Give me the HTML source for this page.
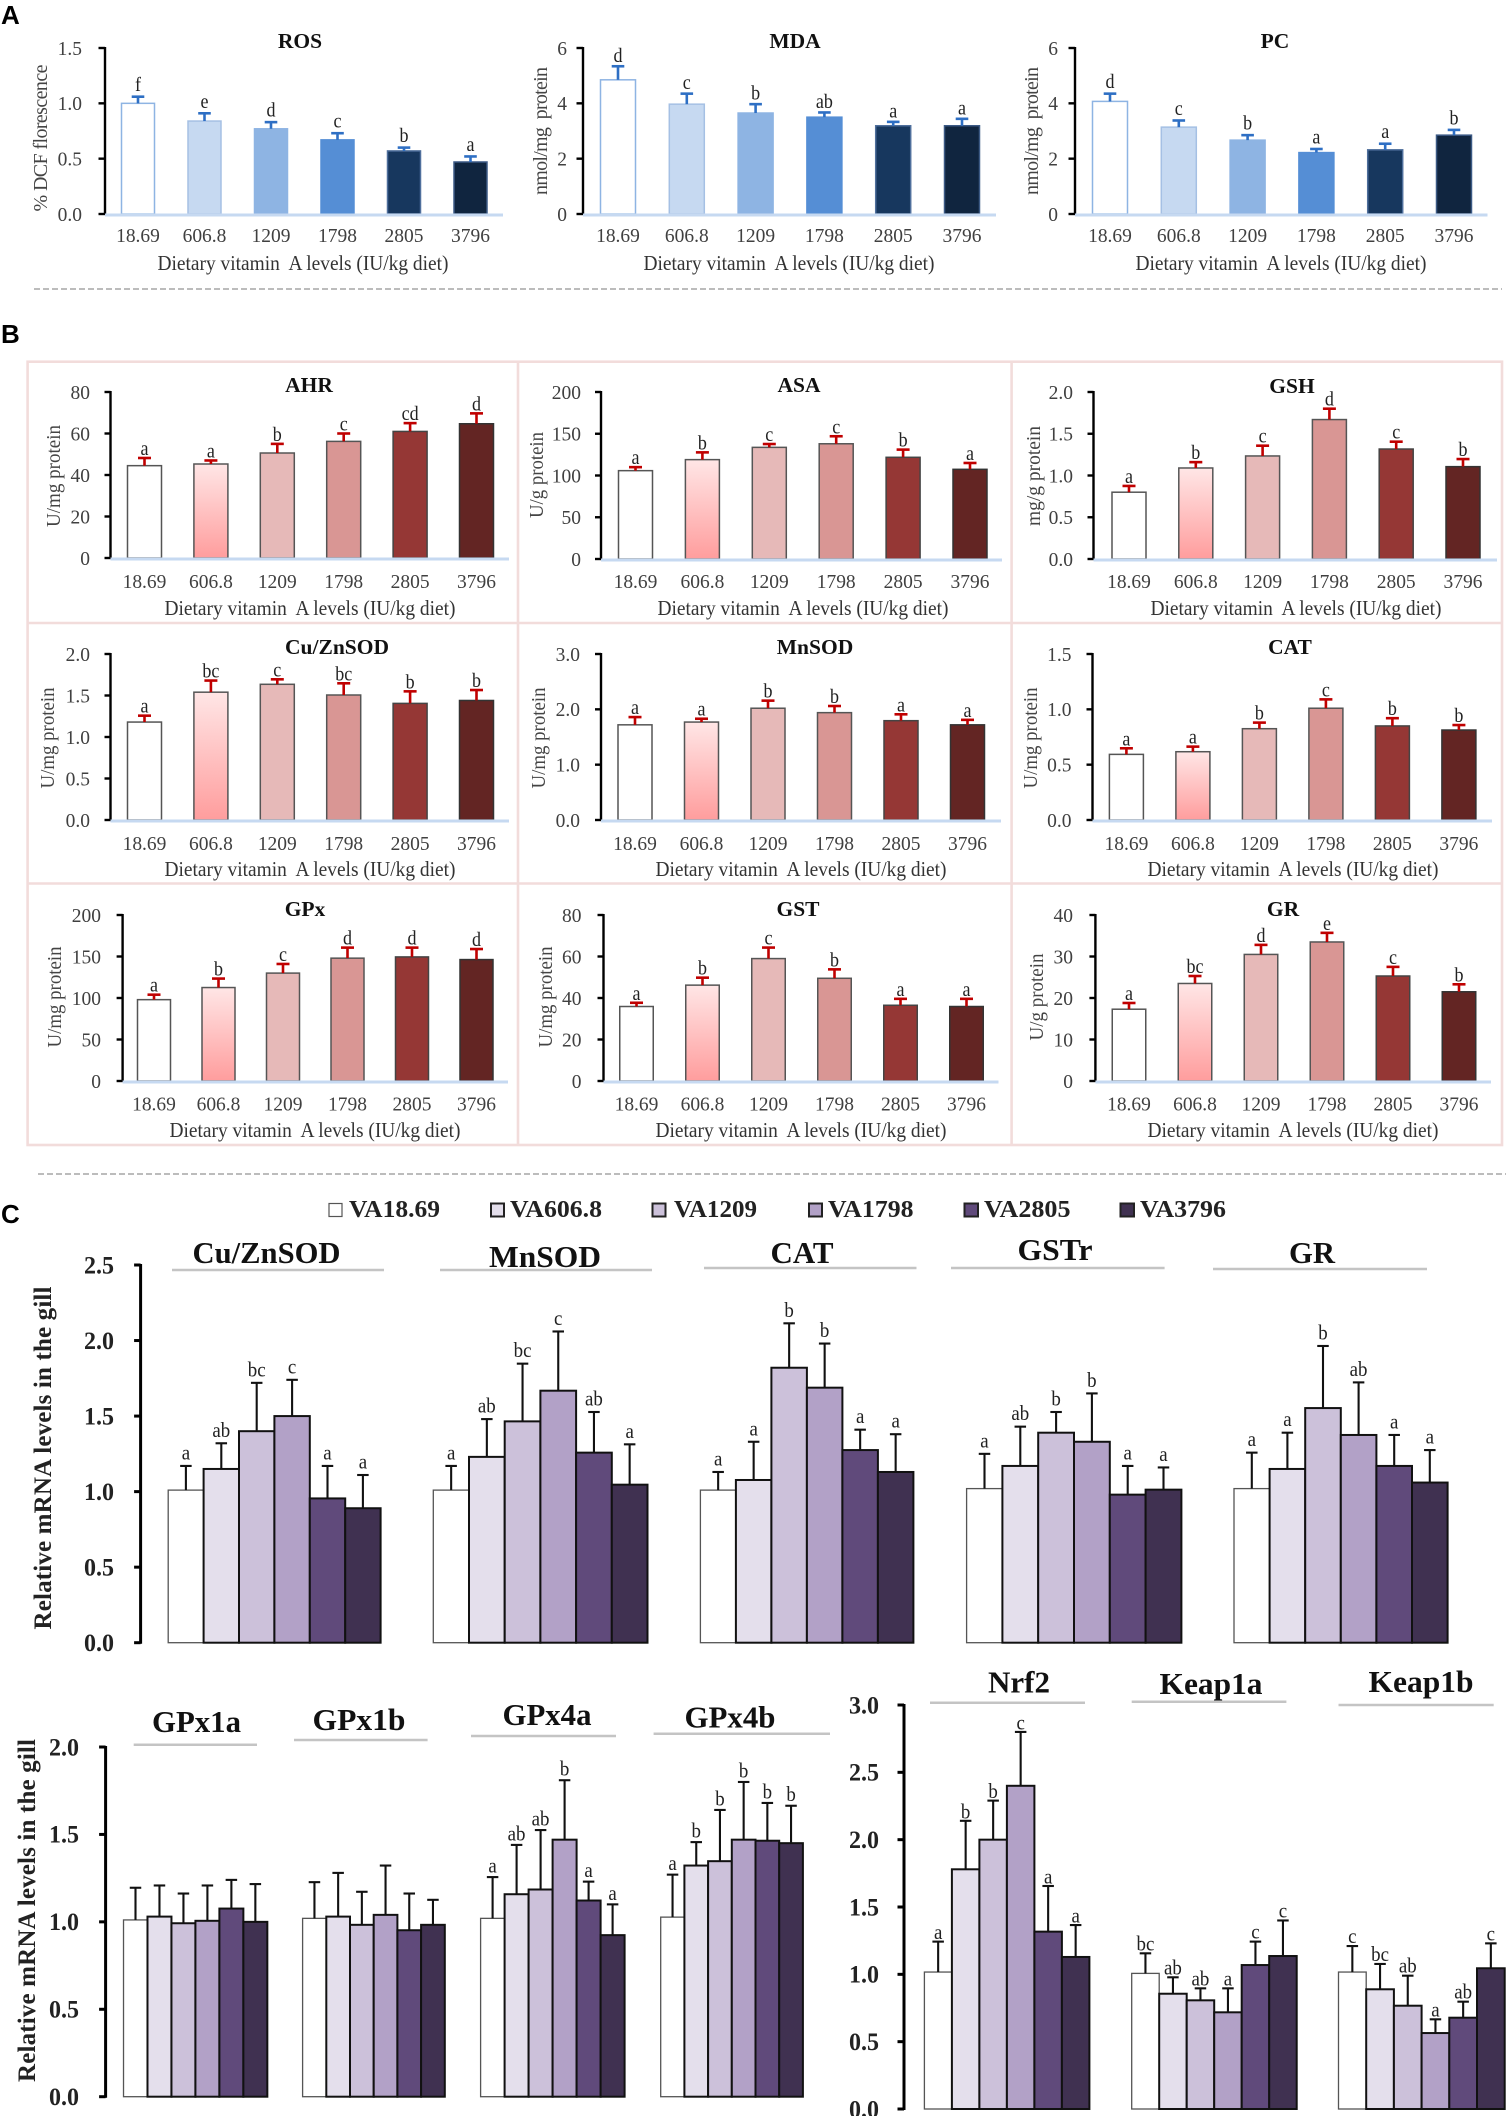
<!DOCTYPE html>
<html lang="en">
<head>
<meta charset="utf-8">
<title>Dietary vitamin A levels: oxidative status and antioxidant gene expression</title>
<style>
html,body{margin:0;padding:0;background:#fff;}
svg{display:block;filter:blur(0.35px);}
text{font-family:"Liberation Serif","Times New Roman",serif;}
.panel-letter{font-family:"Liberation Sans",Arial,sans-serif;font-weight:700;font-size:26px;fill:#000;}
.ttl{font-weight:700;font-size:21.5px;fill:#111;text-anchor:middle;}
.xt{font-size:21px;fill:#333;text-anchor:middle;white-space:pre;}
.yt{font-size:20px;fill:#444;text-anchor:middle;white-space:pre;}
.ctl{font-weight:700;font-size:31px;fill:#111;text-anchor:middle;}
.cyt{font-weight:700;font-size:25px;fill:#222;text-anchor:middle;}
.lg{font-weight:700;font-size:24.5px;fill:#222;}
.rule{stroke:#c4c4c4;stroke-width:2.5;}
.dash{stroke:#a6a6a6;stroke-width:1.6;stroke-dasharray:6 3;}
.frame{stroke:#f2dcdb;stroke-width:2.6;fill:none;}
.swatch{stroke:#222;stroke-width:2;}
</style>
</head>
<body>
<svg id="figure" xmlns="http://www.w3.org/2000/svg" width="1506" height="2116" viewBox="0 0 1506 2116">
  <defs>
    <linearGradient id="redGrad" x1="0" y1="0" x2="0" y2="1">
      <stop offset="0" stop-color="#ffe6e6"/>
      <stop offset="1" stop-color="#ff9d9d"/>
    </linearGradient>
  </defs>
  <rect width="1506" height="2116" fill="#fff"/>

  <text class="panel-letter" x="1" y="24">A</text>
  <text class="panel-letter" x="1" y="343">B</text>
  <text class="panel-letter" x="1" y="1223">C</text>

  <line class="dash" x1="34" y1="289" x2="1502" y2="289"/>
  <line class="dash" x1="38" y1="1174" x2="1506" y2="1174"/>

  <g>
    <rect class="frame" x="27.6" y="361.7" width="1474.4" height="783.3"/>
    <line class="frame" x1="518" y1="361.7" x2="518" y2="1145"/>
    <line class="frame" x1="1011.6" y1="361.7" x2="1011.6" y2="1145"/>
    <line class="frame" x1="27.6" y1="623" x2="1502" y2="623"/>
    <line class="frame" x1="27.6" y1="883.5" x2="1502" y2="883.5"/>
  </g>

  <!-- Panel A titles -->
  <text class="ttl" x="300" y="48">ROS</text>
  <text class="ttl" x="795" y="48">MDA</text>
  <text class="ttl" x="1275" y="48">PC</text>
  <text class="xt" x="303" y="270" textLength="291" lengthAdjust="spacingAndGlyphs">Dietary vitamin  A levels (IU/kg diet)</text>
  <text class="xt" x="789" y="270" textLength="291" lengthAdjust="spacingAndGlyphs">Dietary vitamin  A levels (IU/kg diet)</text>
  <text class="xt" x="1281" y="270" textLength="291" lengthAdjust="spacingAndGlyphs">Dietary vitamin  A levels (IU/kg diet)</text>
  <text class="yt" transform="translate(47,138) rotate(-90)" textLength="147">% DCF florescence</text>
  <text class="yt" transform="translate(547,131) rotate(-90)" textLength="128">nmol/mg  protein</text>
  <text class="yt" transform="translate(1038,131) rotate(-90)" textLength="128">nmol/mg  protein</text>

  <!-- Panel B titles -->
  <text class="ttl" x="309" y="392">AHR</text>
  <text class="ttl" x="799" y="392">ASA</text>
  <text class="ttl" x="1292" y="393">GSH</text>
  <text class="ttl" x="337" y="654">Cu/ZnSOD</text>
  <text class="ttl" x="815" y="654">MnSOD</text>
  <text class="ttl" x="1290" y="654">CAT</text>
  <text class="ttl" x="305" y="916">GPx</text>
  <text class="ttl" x="798" y="916">GST</text>
  <text class="ttl" x="1283" y="916">GR</text>

  <text class="xt" x="310" y="615" textLength="291" lengthAdjust="spacingAndGlyphs">Dietary vitamin  A levels (IU/kg diet)</text>
  <text class="xt" x="803" y="615" textLength="291" lengthAdjust="spacingAndGlyphs">Dietary vitamin  A levels (IU/kg diet)</text>
  <text class="xt" x="1296" y="615" textLength="291" lengthAdjust="spacingAndGlyphs">Dietary vitamin  A levels (IU/kg diet)</text>
  <text class="xt" x="310" y="876" textLength="291" lengthAdjust="spacingAndGlyphs">Dietary vitamin  A levels (IU/kg diet)</text>
  <text class="xt" x="801" y="876" textLength="291" lengthAdjust="spacingAndGlyphs">Dietary vitamin  A levels (IU/kg diet)</text>
  <text class="xt" x="1293" y="876" textLength="291" lengthAdjust="spacingAndGlyphs">Dietary vitamin  A levels (IU/kg diet)</text>
  <text class="xt" x="315" y="1137" textLength="291" lengthAdjust="spacingAndGlyphs">Dietary vitamin  A levels (IU/kg diet)</text>
  <text class="xt" x="801" y="1137" textLength="291" lengthAdjust="spacingAndGlyphs">Dietary vitamin  A levels (IU/kg diet)</text>
  <text class="xt" x="1293" y="1137" textLength="291" lengthAdjust="spacingAndGlyphs">Dietary vitamin  A levels (IU/kg diet)</text>

  <text class="yt" transform="translate(60,476) rotate(-90)" textLength="102" lengthAdjust="spacingAndGlyphs">U/mg protein</text>
  <text class="yt" transform="translate(543,475) rotate(-90)" textLength="86" lengthAdjust="spacingAndGlyphs">U/g protein</text>
  <text class="yt" transform="translate(1040,476) rotate(-90)" textLength="100" lengthAdjust="spacingAndGlyphs">mg/g protein</text>
  <text class="yt" transform="translate(54,738) rotate(-90)" textLength="101" lengthAdjust="spacingAndGlyphs">U/mg protein</text>
  <text class="yt" transform="translate(545,738) rotate(-90)" textLength="101" lengthAdjust="spacingAndGlyphs">U/mg protein</text>
  <text class="yt" transform="translate(1037,738) rotate(-90)" textLength="101" lengthAdjust="spacingAndGlyphs">U/mg protein</text>
  <text class="yt" transform="translate(61,997) rotate(-90)" textLength="101" lengthAdjust="spacingAndGlyphs">U/mg protein</text>
  <text class="yt" transform="translate(552,997) rotate(-90)" textLength="101" lengthAdjust="spacingAndGlyphs">U/mg protein</text>
  <text class="yt" transform="translate(1043,997) rotate(-90)" textLength="87" lengthAdjust="spacingAndGlyphs">U/g protein</text>

  <!-- Panel C legend -->
  <g>
    <rect class="swatch" x="329" y="1203.5" width="13" height="13" fill="#fff" style="stroke:#555;stroke-width:1.2"/>
    <text class="lg" x="349" y="1217" textLength="91" lengthAdjust="spacingAndGlyphs">VA18.69</text>
    <rect class="swatch" x="491" y="1203.5" width="13" height="13" fill="#e4dfec"/>
    <text class="lg" x="510" y="1217" textLength="92" lengthAdjust="spacingAndGlyphs">VA606.8</text>
    <rect class="swatch" x="652.5" y="1203.5" width="13" height="13" fill="#ccc1da"/>
    <text class="lg" x="674" y="1217" textLength="83" lengthAdjust="spacingAndGlyphs">VA1209</text>
    <rect class="swatch" x="809" y="1203.5" width="13" height="13" fill="#b2a1c7"/>
    <text class="lg" x="828" y="1217" textLength="85.5" lengthAdjust="spacingAndGlyphs">VA1798</text>
    <rect class="swatch" x="964.5" y="1203.5" width="13.5" height="13" fill="#604a7b"/>
    <text class="lg" x="984" y="1217" textLength="86.5" lengthAdjust="spacingAndGlyphs">VA2805</text>
    <rect class="swatch" x="1120.5" y="1203.5" width="13.5" height="13" fill="#403151"/>
    <text class="lg" x="1140" y="1217" textLength="86" lengthAdjust="spacingAndGlyphs">VA3796</text>
  </g>

  <!-- Panel C titles and rules -->
  <text class="ctl" x="266.5" y="1263" textLength="148" lengthAdjust="spacingAndGlyphs">Cu/ZnSOD</text>
  <line class="rule" x1="172" y1="1270" x2="384" y2="1270"/>
  <text class="ctl" x="545" y="1267" textLength="112" lengthAdjust="spacingAndGlyphs">MnSOD</text>
  <line class="rule" x1="440" y1="1270" x2="652" y2="1270"/>
  <text class="ctl" x="802" y="1263" textLength="63" lengthAdjust="spacingAndGlyphs">CAT</text>
  <line class="rule" x1="704" y1="1268" x2="916.5" y2="1268"/>
  <text class="ctl" x="1055" y="1260" textLength="75" lengthAdjust="spacingAndGlyphs">GSTr</text>
  <line class="rule" x1="951" y1="1268" x2="1164.6" y2="1268"/>
  <text class="ctl" x="1312" y="1263" textLength="46" lengthAdjust="spacingAndGlyphs">GR</text>
  <line class="rule" x1="1213" y1="1269" x2="1427" y2="1269"/>

  <text class="ctl" x="196.5" y="1732" textLength="89" lengthAdjust="spacingAndGlyphs">GPx1a</text>
  <line class="rule" x1="133.7" y1="1744.7" x2="257" y2="1744.7"/>
  <text class="ctl" x="359" y="1730" textLength="93" lengthAdjust="spacingAndGlyphs">GPx1b</text>
  <line class="rule" x1="294" y1="1740" x2="427.6" y2="1740"/>
  <text class="ctl" x="547" y="1725" textLength="89" lengthAdjust="spacingAndGlyphs">GPx4a</text>
  <line class="rule" x1="471" y1="1736" x2="616" y2="1736"/>
  <text class="ctl" x="730" y="1727.7" textLength="91" lengthAdjust="spacingAndGlyphs">GPx4b</text>
  <line class="rule" x1="653.6" y1="1733.7" x2="830" y2="1733.7"/>

  <text class="ctl" x="1019" y="1692.7" textLength="62" lengthAdjust="spacingAndGlyphs">Nrf2</text>
  <line class="rule" x1="930" y1="1702.7" x2="1085" y2="1702.7"/>
  <text class="ctl" x="1211" y="1694" textLength="103" lengthAdjust="spacingAndGlyphs">Keap1a</text>
  <line class="rule" x1="1131.7" y1="1701.7" x2="1286.4" y2="1701.7"/>
  <text class="ctl" x="1421" y="1692" textLength="105" lengthAdjust="spacingAndGlyphs">Keap1b</text>
  <line class="rule" x1="1338.5" y1="1705" x2="1493.7" y2="1705"/>

  <text class="cyt" transform="translate(51,1458) rotate(-90)" textLength="343">Relative mRNA levels in the gill</text>
  <text class="cyt" transform="translate(35,1910.5) rotate(-90)" textLength="343">Relative mRNA levels in the gill</text>
</svg>

<script>
// ---- Shared categories and tick labels ----
const doseLabels = ['18.69','606.8','1209','1798','2805','3796'];
const ticksRos = ['0.0','0.5','1.0','1.5'];
const ticksMda = ['0','2','4','6'];
const ticksPc = ['0','2','4','6'];
const ticksAhr = ['0','20','40','60','80'];
const ticksAsa = ['0','50','100','150','200'];
const ticksGsh = ['0.0','0.5','1.0','1.5','2.0'];
const ticksCuZn = ['0.0','0.5','1.0','1.5','2.0'];
const ticksMn = ['0.0','1.0','2.0','3.0'];
const ticksCat = ['0.0','0.5','1.0','1.5'];
const ticksGpx = ['0','50','100','150','200'];
const ticksGst = ['0','20','40','60','80'];
const ticksGr = ['0','10','20','30','40'];
const ticksGeneTop = ['0.0','0.5','1.0','1.5','2.0','2.5'];
const ticksGeneLeft = ['0.0','0.5','1.0','1.5','2.0'];
const ticksGeneRight = ['0.0','0.5','1.0','1.5','2.0','2.5','3.0'];

// ---- Panel A series ----
const rosMeans = [1.0,0.84,0.77,0.67,0.57,0.47];
const rosUpper = [1.06,0.91,0.83,0.73,0.6,0.52];
const rosLetters = ['f','e','d','c','b','a'];
const mdaMeans = [4.85,3.97,3.65,3.5,3.19,3.19];
const mdaUpper = [5.34,4.35,3.97,3.67,3.33,3.44];
const mdaLetters = ['d','c','b','ab','a','a'];
const pcMeans = [4.07,3.14,2.67,2.22,2.32,2.85];
const pcUpper = [4.35,3.38,2.85,2.35,2.54,3.04];
const pcLetters = ['d','c','b','a','a','b'];

// ---- Panel B series ----
const ahrMeans = [44.5,45.3,50.6,56.2,61,64.7];
const ahrUpper = [48.2,47,55,60,65,69.7];
const ahrLetters = ['a','a','b','c','cd','d'];
const asaMeans = [105.8,119,133.7,138,121.8,107.4];
const asaUpper = [110,127.7,137.7,147,131,115];
const asaLetters = ['a','b','c','c','b','a'];
const gshMeans = [0.8,1.09,1.234,1.67,1.317,1.106];
const gshUpper = [0.875,1.16,1.357,1.8,1.405,1.197];
const gshLetters = ['a','b','c','d','c','b'];
const cuznMeans = [1.18,1.54,1.635,1.506,1.405,1.44];
const cuznUpper = [1.257,1.68,1.695,1.647,1.55,1.566];
const cuznLetters = ['a','bc','c','bc','b','b'];
const mnMeans = [1.72,1.77,2.02,1.94,1.795,1.72];
const mnUpper = [1.86,1.83,2.157,2.06,1.91,1.81];
const mnLetters = ['a','a','b','b','a','a'];
const catMeans = [0.593,0.617,0.825,1.01,0.85,0.813];
const catUpper = [0.648,0.663,0.88,1.09,0.92,0.858];
const catLetters = ['a','a','b','c','b','b'];
const gpxMeans = [98,112.6,130,148,149.5,146.3];
const gpxUpper = [104,123.4,141,160.7,160.7,159];
const gpxLetters = ['a','b','c','d','d','d'];
const gstMeans = [35.9,46.2,59,49.5,36.5,35.9];
const gstUpper = [37.7,49.8,64.3,53.8,39.6,39.6];
const gstLetters = ['a','b','c','b','a','a'];
const grMeans = [17.3,23.5,30.5,33.5,25.3,21.5];
const grUpper = [18.8,25.3,32.8,35.7,27.5,23.3];
const grLetters = ['a','bc','d','e','c','b'];

// ---- Panel C series ----
const geneCuznMeans = [1.01,1.15,1.4,1.5,0.955,0.89];
const geneCuznUpper = [1.17,1.32,1.72,1.74,1.17,1.11];
const geneCuznLetters = ['a','ab','bc','c','a','a'];
const geneMnMeans = [1.01,1.23,1.465,1.668,1.258,1.046];
const geneMnUpper = [1.17,1.48,1.847,2.06,1.527,1.313];
const geneMnLetters = ['a','ab','bc','c','ab','a'];
const geneCatMeans = [1.01,1.077,1.82,1.688,1.275,1.13];
const geneCatUpper = [1.13,1.33,2.114,1.98,1.41,1.38];
const geneCatLetters = ['a','a','b','b','a','a'];
const geneGstrMeans = [1.02,1.17,1.39,1.33,0.98,1.013];
const geneGstrUpper = [1.25,1.43,1.527,1.65,1.17,1.16];
const geneGstrLetters = ['a','ab','b','b','a','a'];
const geneGrMeans = [1.02,1.15,1.553,1.375,1.17,1.06];
const geneGrUpper = [1.258,1.39,1.964,1.723,1.375,1.275];
const geneGrLetters = ['a','a','b','ab','a','a'];
const gpx1aMeans = [1.011,1.03,0.992,1.006,1.076,1.0];
const gpx1aUpper = [1.195,1.208,1.162,1.208,1.24,1.216];
const gpx1bMeans = [1.02,1.03,0.983,1.04,0.952,0.983];
const gpx1bUpper = [1.227,1.28,1.172,1.322,1.162,1.126];
const gpx4aMeans = [1.02,1.158,1.185,1.47,1.122,0.924];
const gpx4aUpper = [1.256,1.44,1.525,1.81,1.23,1.1];
const gpx4aLetters = ['a','ab','ab','b','a','a'];
const gpx4bMeans = [1.027,1.322,1.347,1.47,1.464,1.45];
const gpx4bUpper = [1.27,1.456,1.64,1.8,1.68,1.664];
const gpx4bLetters = ['a','b','b','b','b','b'];
const nrf2Means = [1.017,1.78,2.0,2.4,1.317,1.129];
const nrf2Upper = [1.243,2.14,2.29,2.8,1.656,1.366];
const nrf2Letters = ['a','b','b','c','a','a'];
const keap1aMeans = [1.007,0.856,0.807,0.718,1.069,1.136];
const keap1aUpper = [1.156,0.978,0.896,0.896,1.243,1.4];
const keap1aLetters = ['bc','ab','ab','a','c','c'];
const keap1bMeans = [1.017,0.889,0.767,0.564,0.678,1.045];
const keap1bUpper = [1.21,1.077,0.99,0.666,0.797,1.23];
const keap1bLetters = ['c','bc','ab','a','ab','c'];
const noLetters = [];

// ---- Themes ----
const blueTheme = {fills:['#ffffff','#c6d9f1','#8eb4e3','#558ed5','#17375e','#10253f'],stroke:['#8eb4e3','#a5c0e4','#8eb4e3','#558ed5','#4f6f9c','#3c5a85'],strokeW:1.5,err:'#2e6fc4',errW:2.6,capW:12.6,gap:5.5,tickSize:20.5,tickWeight:400,tickFill:'#404040',axisW:2.4,tickLen:6.5,letterSize:20,squeeze:0.95};
const redTheme = {fills:['#ffffff','url(#redGrad)','#e6b9b8','#d99694','#953735','#632523'],stroke:['#555','#555','#555','#555','#444','#333'],strokeW:1.5,err:'#c00000',errW:2.6,capW:13,gap:3,tickSize:20.5,tickWeight:400,tickFill:'#404040',axisW:2.4,tickLen:6,letterSize:20,squeeze:0.95};
const purpleTheme = {fills:['#ffffff','#e4dfec','#ccc1da','#b2a1c7','#604a7b','#403151'],stroke:['#555','#111','#111','#111','#111','#111'],strokeW:2,err:'#111',errW:2.1,capW:11.5,gap:6.5,tickSize:25,tickWeight:700,tickFill:'#222',axisW:3,tickLen:6.5,letterSize:21,squeeze:0.96};

// ---- Drawing helpers ----
const NS = 'http://www.w3.org/2000/svg';
const figure = document.getElementById('figure');
function make(tag, parent){
  const el = document.createElementNS(NS, tag);
  parent.appendChild(el);
  return el;
}
function geom(el, props){
  for (const k in props) el.setAttribute(k, props[k]);
  return el;
}
function squeeze(t, factor){
  t.setAttribute('textLength', t.getComputedTextLength() * factor);
  t.setAttribute('lengthAdjust', 'spacingAndGlyphs');
}
function axisMax(ticks){ return parseFloat(ticks[ticks.length - 1]); }
function yScaleFor(axis, ticks){
  const max = axisMax(ticks);
  return function(v){ return axis.bottom - (v / max) * (axis.bottom - axis.top); };
}
function drawAxis(axis, ticks, theme){
  const y = yScaleFor(axis, ticks);
  const g = make('g', figure);
  
  
  const line = geom(make('line', g), {x1:axis.x, x2:axis.x, y1:axis.top - 1, y2:axis.bottom + 1, stroke:'#000', 'stroke-width':theme.axisW});
  
  
  ticks.forEach(function(label){
    const v = parseFloat(label);
    const mark = geom(make('line', g), {x1:axis.x - theme.tickLen, x2:axis.x, y1:y(v), y2:y(v), stroke:'#000', 'stroke-width':theme.axisW});
    
    
    const t = geom(make('text', g), {x:axis.labelEnd, y:y(v) + theme.tickSize * 0.33, 'text-anchor':'end', 'font-size':theme.tickSize, 'font-weight':theme.tickWeight, fill:theme.tickFill});
    t.textContent = label;
    
    
    squeeze(t, theme.squeeze);
  });
}
function drawBars(group, axis, ticks, theme, means, upper, letters){
  const y = yScaleFor(axis, ticks);
  const x = function(i){ return group.first + i * group.step; };
  const g = make('g', figure);
  
  
  means.forEach(function(v, i){
    const bar = geom(make('rect', g), {x:x(i) - group.barW / 2, y:y(v), width:group.barW, height:axis.bottom - y(v), fill:theme.fills[i], stroke:theme.stroke[i], 'stroke-width':i === 0 && theme === purpleTheme ? 1.3 : theme.strokeW});
    
    
  });
  upper.forEach(function(u, i){
    const stem = geom(make('line', g), {x1:x(i), x2:x(i), y1:y(means[i]), y2:y(u), stroke:theme.err, 'stroke-width':theme.errW});
    
    
    const cap = geom(make('line', g), {x1:x(i) - theme.capW / 2, x2:x(i) + theme.capW / 2, y1:y(u), y2:y(u), stroke:theme.err, 'stroke-width':theme.errW});
    
    
  });
  letters.forEach(function(letter, i){
    const gap = group.gap !== undefined ? group.gap : theme.gap;
    const t = geom(make('text', g), {x:x(i), y:y(upper[i]) - gap, 'text-anchor':'middle', 'font-size':theme.letterSize, fill:'#222'});
    t.textContent = letter;
    
    
    squeeze(t, 0.9);
  });
  if (group.end !== undefined){
    const base = geom(make('line', g), {x1:axis.x, x2:group.end, y1:axis.bottom + 1, y2:axis.bottom + 1, stroke:'#c6d9f1', 'stroke-width':3});
    
    
    doseLabels.forEach(function(label, i){
      const t = geom(make('text', g), {x:x(i), y:group.tickY, 'text-anchor':'middle', 'font-size':20.5, fill:'#404040'});
      t.textContent = label;
      
      
      squeeze(t, 0.95);
    });
  }
}
function panel(geometry, ticks, theme, means, upper, letters){
  const axis = {name:geometry.name, x:geometry.x, top:geometry.top, bottom:geometry.bottom, labelEnd:geometry.labelEnd};
  drawAxis(axis, ticks, theme);
  drawBars(geometry, axis, ticks, theme, means, upper, letters);
}

// ---- Panel A ----
panel({name:'ros',x:105,top:48,bottom:214,labelEnd:82,first:138,step:66.5,barW:33,end:503,tickY:242}, ticksRos, blueTheme, rosMeans, rosUpper, rosLetters);
panel({name:'mda',x:583,top:48,bottom:214,labelEnd:567,first:618,step:68.8,barW:35,end:996,tickY:242,gap:4.5}, ticksMda, blueTheme, mdaMeans, mdaUpper, mdaLetters);
panel({name:'pc',x:1075,top:48,bottom:214,labelEnd:1058,first:1110,step:68.8,barW:35,end:1487.5,tickY:242}, ticksPc, blueTheme, pcMeans, pcUpper, pcLetters);

// ---- Panel B ----
panel({name:'ahr',x:110.5,top:392,bottom:558,labelEnd:90,first:144.5,step:66.4,barW:34,end:509,tickY:588}, ticksAhr, redTheme, ahrMeans, ahrUpper, ahrLetters);
panel({name:'asa',x:601,top:392,bottom:559,labelEnd:581,first:635.5,step:66.9,barW:34,end:1002,tickY:588}, ticksAsa, redTheme, asaMeans, asaUpper, asaLetters);
panel({name:'gsh',x:1093.5,top:392,bottom:559,labelEnd:1073,first:1129,step:66.8,barW:34,end:1497,tickY:588}, ticksGsh, redTheme, gshMeans, gshUpper, gshLetters);
panel({name:'cuzn',x:110.5,top:654,bottom:820,labelEnd:90,first:144.5,step:66.4,barW:34,end:509,tickY:850}, ticksCuZn, redTheme, cuznMeans, cuznUpper, cuznLetters);
panel({name:'mn',x:601,top:654,bottom:820,labelEnd:580,first:635,step:66.5,barW:34,end:1001,tickY:850}, ticksMn, redTheme, mnMeans, mnUpper, mnLetters);
panel({name:'cat',x:1092.5,top:654,bottom:820,labelEnd:1071.5,first:1126.4,step:66.5,barW:34,end:1492,tickY:850}, ticksCat, redTheme, catMeans, catUpper, catLetters);
panel({name:'gpx',x:122.6,top:915,bottom:1081,labelEnd:101,first:154,step:64.5,barW:33,end:508,tickY:1110.7}, ticksGpx, redTheme, gpxMeans, gpxUpper, gpxLetters);
panel({name:'gst',x:603.5,top:915,bottom:1081,labelEnd:581.5,first:636.5,step:66,barW:33.5,end:998.5,tickY:1110.7}, ticksGst, redTheme, gstMeans, gstUpper, gstLetters);
panel({name:'gr',x:1095.4,top:915,bottom:1081,labelEnd:1073,first:1129,step:66,barW:33.5,end:1491,tickY:1110.7}, ticksGr, redTheme, grMeans, grUpper, grLetters);

// ---- Panel C ----
const axisGeneTop = {name:'gene-top',x:140.6,top:1265,bottom:1642.7,labelEnd:114};
const axisGeneLeft = {name:'gene-left',x:105.6,top:1747,bottom:2096.7,labelEnd:79};
const axisGeneRight = {name:'gene-right',x:904,top:1705,bottom:2109,labelEnd:879};
drawAxis(axisGeneTop, ticksGeneTop, purpleTheme);
drawAxis(axisGeneLeft, ticksGeneLeft, purpleTheme);
drawAxis(axisGeneRight, ticksGeneRight, purpleTheme);

drawBars({name:'gene-cuzn',first:185.9,step:35.4,barW:35.4}, axisGeneTop, ticksGeneTop, purpleTheme, geneCuznMeans, geneCuznUpper, geneCuznLetters);
drawBars({name:'gene-mn',first:451.15,step:35.7,barW:35.7}, axisGeneTop, ticksGeneTop, purpleTheme, geneMnMeans, geneMnUpper, geneMnLetters);
drawBars({name:'gene-cat',first:718.15,step:35.5,barW:35.5}, axisGeneTop, ticksGeneTop, purpleTheme, geneCatMeans, geneCatUpper, geneCatLetters);
drawBars({name:'gene-gstr',first:984.5,step:35.8,barW:35.8}, axisGeneTop, ticksGeneTop, purpleTheme, geneGstrMeans, geneGstrUpper, geneGstrLetters);
drawBars({name:'gene-gr',first:1251.8,step:35.6,barW:35.6}, axisGeneTop, ticksGeneTop, purpleTheme, geneGrMeans, geneGrUpper, geneGrLetters);

drawBars({name:'gene-gpx1a',first:135.5,step:23.97,barW:23.97}, axisGeneLeft, ticksGeneLeft, purpleTheme, gpx1aMeans, gpx1aUpper, noLetters);
drawBars({name:'gene-gpx1b',first:314.45,step:23.7,barW:23.7}, axisGeneLeft, ticksGeneLeft, purpleTheme, gpx1bMeans, gpx1bUpper, noLetters);
drawBars({name:'gene-gpx4a',first:492.6,step:24,barW:24,gap:4.5}, axisGeneLeft, ticksGeneLeft, purpleTheme, gpx4aMeans, gpx4aUpper, gpx4aLetters);
drawBars({name:'gene-gpx4b',first:672.55,step:23.7,barW:23.7,gap:4.5}, axisGeneLeft, ticksGeneLeft, purpleTheme, gpx4bMeans, gpx4bUpper, gpx4bLetters);

drawBars({name:'gene-nrf2',first:938.15,step:27.5,barW:27.5,gap:2.5}, axisGeneRight, ticksGeneRight, purpleTheme, nrf2Means, nrf2Upper, nrf2Letters);
drawBars({name:'gene-keap1a',first:1145.45,step:27.5,barW:27.5,gap:3}, axisGeneRight, ticksGeneRight, purpleTheme, keap1aMeans, keap1aUpper, keap1aLetters);
drawBars({name:'gene-keap1b',first:1352.35,step:27.7,barW:27.7,gap:3}, axisGeneRight, ticksGeneRight, purpleTheme, keap1bMeans, keap1bUpper, keap1bLetters);
</script>
</body>
</html>
